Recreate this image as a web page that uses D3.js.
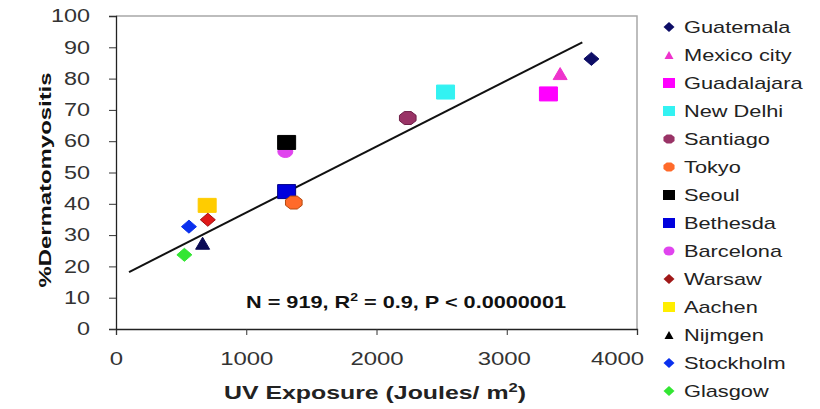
<!DOCTYPE html>
<html>
<head>
<meta charset="utf-8">
<script src="https://cdn.jsdelivr.net/npm/d3@7"></script>
<style>
  html, body { margin: 0; padding: 0; background: #fff; }
  svg { display: block; font-family: Arial, "Liberation Sans", sans-serif; }
</style>
</head>
<body>
<svg id="chart" width="820" height="409"></svg>
<script>
// Cities, in legend order
const cities = ["Guatemala", "Mexico city", "Guadalajara", "New Delhi", "Santiago", "Tokyo", "Seoul",
                "Bethesda", "Barcelona", "Warsaw", "Aachen", "Nijmgen", "Stockholm", "Glasgow"];
// UV exposure (J/m²) per city
const uvExposure = [3650, 3410, 3320, 2530, 2240, 1365, 1310, 1310, 1300, 705, 700, 665, 560, 525];
// Percentage of dermatomyositis per city
const pctDM = [86.3, 81.6, 75.1, 75.7, 67.4, 40.4, 59.6, 43.9, 56.7, 34.9, 39.5, 27.4, 32.7, 23.7];
// Marker shape and colours per city
const shapes = ["diamond", "triangle", "square", "square", "octagon", "octagon", "square",
                "square", "circle", "diamond", "square", "triangle", "diamond", "diamond"];
const fills = ["#0d0d66", "#ee33cc", "#ff00ff", "#33f2f2", "#993366", "#ff6a2a", "#000000",
               "#0000dd", "#e044ee", "#e01818", "#ffcc00", "#0a0a55", "#0a30ee", "#33e633"];
const strokes = ["#0d0d66", "#ee33cc", "#ff00ff", "#33f2f2", "#6e1f48", "#b34a10", "#000000",
                 "#000088", "#e044ee", "#a01010", "#ffcc00", "#0a0a55", "#0a30ee", "#33e633"];
const legendFills = ["#0d0d66", "#ee33cc", "#ff00ff", "#33f2f2", "#993366", "#ff6a2a", "#000000",
                     "#0000dd", "#e044ee", "#a01818", "#ffee00", "#000000", "#0a30ee", "#33e633"];
// Regression line end points (x, y)
const trendX = [100, 3580];
const trendY = [18.2, 91.6];
// Axis ticks
const xTicks = [0, 1000, 2000, 3000, 4000];
const yTicks = [0, 10, 20, 30, 40, 50, 60, 70, 80, 90, 100];

const svg = d3.select("#chart");
const x = d3.scaleLinear().domain([0, 4000]).range([116, 637]);
const y = d3.scaleLinear().domain([0, 100]).range([329, 16]);

// widen text horizontally by factor k
function stretch(sel, k) {
  sel.each(function () {
    const len = this.getComputedTextLength();
    d3.select(this).attr("textLength", len * k).attr("lengthAdjust", "spacingAndGlyphs");
  });
}

// light frame on top and right
svg.append("path")
  .attr("d", `M${x(0)},${y(100)}H${x(4000)}V${y(0)}`)
  .attr("fill", "none").attr("stroke", "#a8a8a8").attr("stroke-width", 1.5);

// axes
const xAxis = svg.append("g").attr("transform", `translate(0,${y(0)})`)
  .call(d3.axisBottom(x).tickValues(xTicks).tickSize(6).tickPadding(17).tickFormat(d3.format("d")));
const yAxis = svg.append("g").attr("transform", `translate(${x(0)},0)`)
  .call(d3.axisLeft(y).tickValues(yTicks).tickSize(7).tickPadding(19).tickFormat(d3.format("d")));
[xAxis, yAxis].forEach(g => {
  g.select(".domain").attr("stroke", "#222").attr("stroke-width", 1.3);
  g.selectAll(".tick line").attr("stroke", "#333");
  g.selectAll("text").attr("font-size", 18).attr("fill", "#333")
    .attr("font-family", "Arial, 'Liberation Sans', sans-serif");
});
xAxis.selectAll("text").call(stretch, 1.33);
// the right-most labels sit a little inside the frame edge
xAxis.selectAll(".tick text").attr("dx", d => d === 4000 ? -20 : d === 3000 ? -3 : 0);
yAxis.selectAll("text").call(stretch, 1.3);

// axis titles
const xt = svg.append("text").attr("x", 375).attr("y", 399).attr("text-anchor", "middle")
  .attr("font-size", 18).attr("font-weight", "bold").attr("fill", "#222");
xt.append("tspan").text("UV Exposure (Joules/ m");
xt.append("tspan").attr("font-size", 12).attr("dy", -7).text("2");
xt.append("tspan").attr("dy", 7).text(")");
xt.attr("textLength", 302).attr("lengthAdjust", "spacingAndGlyphs");

svg.append("text")
  .attr("transform", "translate(51,180) rotate(-90)")
  .attr("text-anchor", "middle")
  .attr("font-size", 16).attr("font-weight", "bold").attr("fill", "#111")
  .attr("textLength", 215).attr("lengthAdjust", "spacingAndGlyphs")
  .text("%Dermatomyositis");

// regression line
svg.append("line")
  .attr("x1", x(trendX[0])).attr("y1", y(trendY[0]))
  .attr("x2", x(trendX[1])).attr("y2", y(trendY[1]))
  .attr("stroke", "#111").attr("stroke-width", 2);

// statistics annotation
const ann = svg.append("text").attr("x", 406).attr("y", 308).attr("text-anchor", "middle")
  .attr("font-size", 17).attr("font-weight", "bold").attr("fill", "#111");
ann.append("tspan").text("N = 919, R");
ann.append("tspan").attr("font-size", 11).attr("dy", -7).text("2");
ann.append("tspan").attr("dy", 7).text(" = 0.9, P < 0.0000001");
ann.attr("textLength", 320).attr("lengthAdjust", "spacingAndGlyphs");

// marker path generator, w x h box centred on origin
function markerPath(shape, w, h) {
  const a = w / 2, b = h / 2;
  switch (shape) {
    case "square": return `M${-a},${-b}H${a}V${b}H${-a}Z`;
    case "diamond": return `M0,${-b}L${a},0L0,${b}L${-a},0Z`;
    case "triangle": return `M0,${-b}L${a},${b}H${-a}Z`;
    case "octagon": {
      const pts = d3.range(8).map(i => {
        const t = Math.PI / 8 + i * Math.PI / 4;
        return [a * Math.cos(t), b * Math.sin(t)];
      });
      return "M" + pts.map(p => p.join(",")).join("L") + "Z";
    }
    case "circle": return `M${-a},0A${a},${b} 0 1,0 ${a},0A${a},${b} 0 1,0 ${-a},0Z`;
  }
}
const plotSize = { square: [18, 14], diamond: [15, 13], triangle: [14, 12], octagon: [18, 14], circle: [15, 12] };
const legendSize = { square: [12, 10], diamond: [11, 10], triangle: [9, 8], octagon: [12, 10], circle: [11, 9] };

// points: draw in reverse so earlier legend entries sit on top
const idx = d3.range(cities.length).reverse();
svg.append("g").selectAll("path").data(idx).join("path")
  .attr("transform", i => `translate(${x(uvExposure[i])},${y(pctDM[i])})`)
  .attr("d", i => markerPath(shapes[i], ...plotSize[shapes[i]]))
  .attr("fill", i => fills[i]).attr("stroke", i => strokes[i]).attr("stroke-width", 1);

// legend
const leg = svg.append("g").selectAll("g").data(d3.range(cities.length)).join("g")
  .attr("transform", i => `translate(669,${27 + i * 28})`);
leg.append("path")
  .attr("d", i => markerPath(shapes[i], ...legendSize[shapes[i]]))
  .attr("fill", i => legendFills[i]);
leg.append("text").attr("x", 15).attr("y", 6)
  .attr("font-size", 17).attr("fill", "#222").text(i => cities[i])
  .call(stretch, 1.28);
</script>
</body>
</html>
